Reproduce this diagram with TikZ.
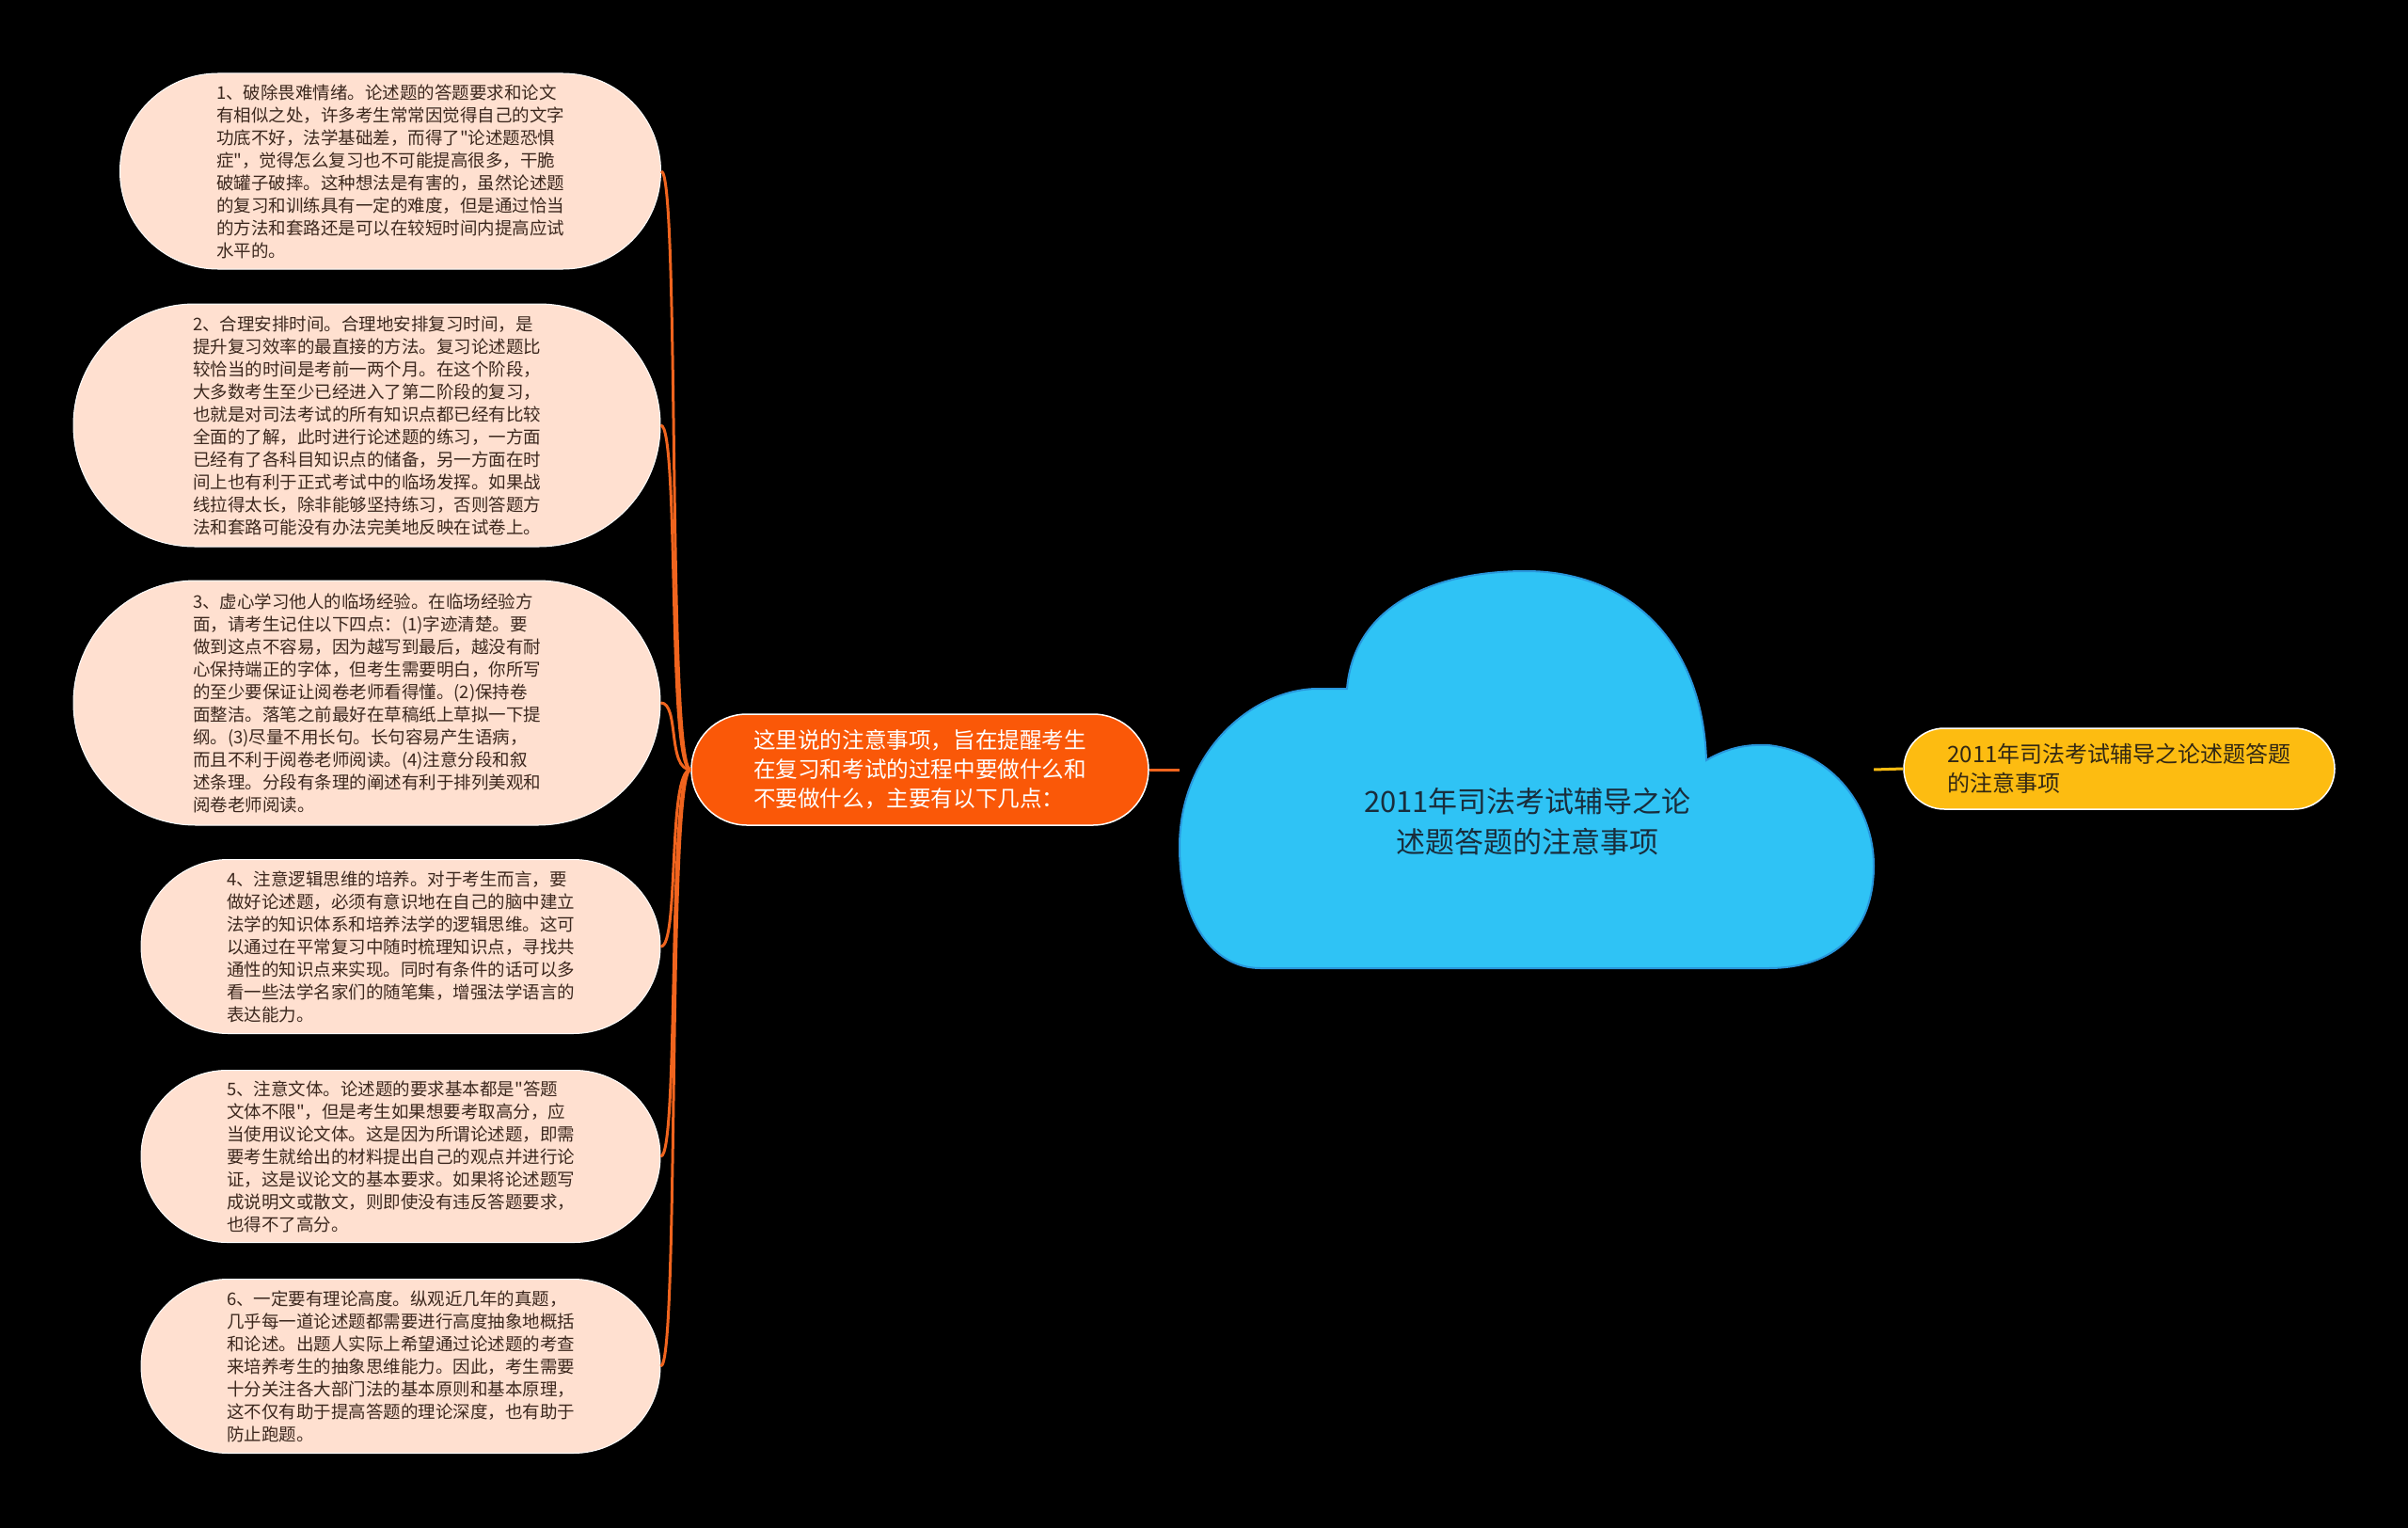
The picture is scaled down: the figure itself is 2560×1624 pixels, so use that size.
\documentclass[tikz,border=0pt]{standalone}
\usepackage{fontspec}
\setmainfont{Noto Sans CJK SC}[Ligatures=TeXOff]
\usetikzlibrary{shapes.misc}
\definecolor{leaffill}{RGB}{255,224,208}
\definecolor{leaftext}{RGB}{60,40,30}
\definecolor{linkorange}{RGB}{240,100,30}
\definecolor{midfill}{RGB}{250,88,8}
\definecolor{cloudfill}{RGB}{47,195,245}
\definecolor{cloudline}{RGB}{40,150,220}
\definecolor{cloudtext}{RGB}{25,45,60}
\definecolor{sidefill}{RGB}{253,188,17}
\definecolor{sidetext}{RGB}{50,40,20}
\tikzstyle{link} = [line width=3pt, draw=linkorange]
\tikzstyle{sidelink} = [line width=3pt, draw=sidefill]

\begin{document}
\begin{tikzpicture}[x=1pt, y=-1pt,
		leaf/.style={
			rounded rectangle,
			draw=white,
			line width=1pt,
			fill=leaffill,
			text=leaftext,
			align=left,
			inner sep=0pt,
			font=\fontsize{18.5}{24}\selectfont},
		topic/.style={
			rounded rectangle,
			draw=white,
			line width=1.5pt,
			inner sep=0pt,
			align=left}]

		\fill[black] (0,0) rectangle (2560,1624);

		\node (leafa) [leaf, minimum width=575pt, minimum height=208pt] at (415,182) {1、破除畏难情绪。论述题的答题要求和论文\\有相似之处，许多考生常常因觉得自己的文字\\功底不好，法学基础差，而得了"论述题恐惧\\症"，觉得怎么复习也不可能提高很多，干脆\\破罐子破摔。这种想法是有害的，虽然论述题\\的复习和训练具有一定的难度，但是通过恰当\\的方法和套路还是可以在较短时间内提高应试\\水平的。};
		\node (leafb) [leaf, minimum width=624pt, minimum height=258pt] at (390,452) {2、合理安排时间。合理地安排复习时间，是\\提升复习效率的最直接的方法。复习论述题比\\较恰当的时间是考前一两个月。在这个阶段，\\大多数考生至少已经进入了第二阶段的复习，\\也就是对司法考试的所有知识点都已经有比较\\全面的了解，此时进行论述题的练习，一方面\\已经有了各科目知识点的储备，另一方面在时\\间上也有利于正式考试中的临场发挥。如果战\\线拉得太长，除非能够坚持练习，否则答题方\\法和套路可能没有办法完美地反映在试卷上。};
		\node (leafc) [leaf, minimum width=624pt, minimum height=260pt] at (390,747) {3、虚心学习他人的临场经验。在临场经验方\\面，请考生记住以下四点：(1)字迹清楚。要\\做到这点不容易，因为越写到最后，越没有耐\\心保持端正的字体，但考生需要明白，你所写\\的至少要保证让阅卷老师看得懂。(2)保持卷\\面整洁。落笔之前最好在草稿纸上草拟一下提\\纲。(3)尽量不用长句。长句容易产生语病，\\而且不利于阅卷老师阅读。(4)注意分段和叙\\述条理。分段有条理的阐述有利于排列美观和\\阅卷老师阅读。};
		\node (leafd) [leaf, minimum width=552pt, minimum height=185pt] at (426,1006) {4、注意逻辑思维的培养。对于考生而言，要\\做好论述题，必须有意识地在自己的脑中建立\\法学的知识体系和培养法学的逻辑思维。这可\\以通过在平常复习中随时梳理知识点，寻找共\\通性的知识点来实现。同时有条件的话可以多\\看一些法学名家们的随笔集，增强法学语言的\\表达能力。};
		\node (leafe) [leaf, minimum width=552pt, minimum height=183pt] at (426,1229) {5、注意文体。论述题的要求基本都是"答题\\文体不限"，但是考生如果想要考取高分，应\\当使用议论文体。这是因为所谓论述题，即需\\要考生就给出的材料提出自己的观点并进行论\\证，这是议论文的基本要求。如果将论述题写\\成说明文或散文，则即使没有违反答题要求，\\也得不了高分。};
		\node (leaff) [leaf, minimum width=552pt, minimum height=185pt] at (426,1452) {6、一定要有理论高度。纵观近几年的真题，\\几乎每一道论述题都需要进行高度抽象地概括\\和论述。出题人实际上希望通过论述题的考查\\来培养考生的抽象思维能力。因此，考生需要\\十分关注各大部门法的基本原则和基本原理，\\这不仅有助于提高答题的理论深度，也有助于\\防止跑题。};

		\node (mid) [topic, fill=midfill, text=white, minimum width=486pt, minimum height=118pt, font=\fontsize{23.6}{31}\selectfont] at (978,818) {这里说的注意事项，旨在提醒考生\\在复习和考试的过程中要做什么和\\不要做什么，主要有以下几点：};

		\fill[cloudfill, draw=cloudline, line width=2pt] (1432,732) .. controls (1440,640) and (1530,607) .. (1622,607)
			.. controls (1730,607) and (1810,680) .. (1814,808)
			.. controls (1838,794) and (1858,791) .. (1880,792)
			.. controls (1950,800) and (1992,860) .. (1992,920)
			.. controls (1992,990) and (1950,1029) .. (1880,1029)
			-- (1340,1029)
			.. controls (1290,1029) and (1254,980) .. (1254,900)
			.. controls (1254,800) and (1330,733) .. (1400,732) -- cycle;
		\node (root) [minimum width=738pt, minimum height=422pt, inner sep=0pt] at (1623,818) {};
		\node (roottext) [align=center, text=cloudtext, font=\fontsize{31}{43}\selectfont] at (1624,873) {2011年司法考试辅导之论\\述题答题的注意事项};

		\node (side) [topic, fill=sidefill, text=sidetext, minimum width=458pt, minimum height=86pt, font=\fontsize{24}{31}\selectfont] at (2253,817) {2011年司法考试辅导之论述题答题\\的注意事项};

		\foreach \leafname in {leafa,leafb,leafc,leafd,leafe,leaff}
			\draw[link] (mid.west) .. controls +(-25,0) and +(20,0) .. (\leafname.east);
		\draw[link] (mid.east) -- (root.west);
		\draw[sidelink] (root.east) -- (side.west);
	\end{tikzpicture}
\end{document}
